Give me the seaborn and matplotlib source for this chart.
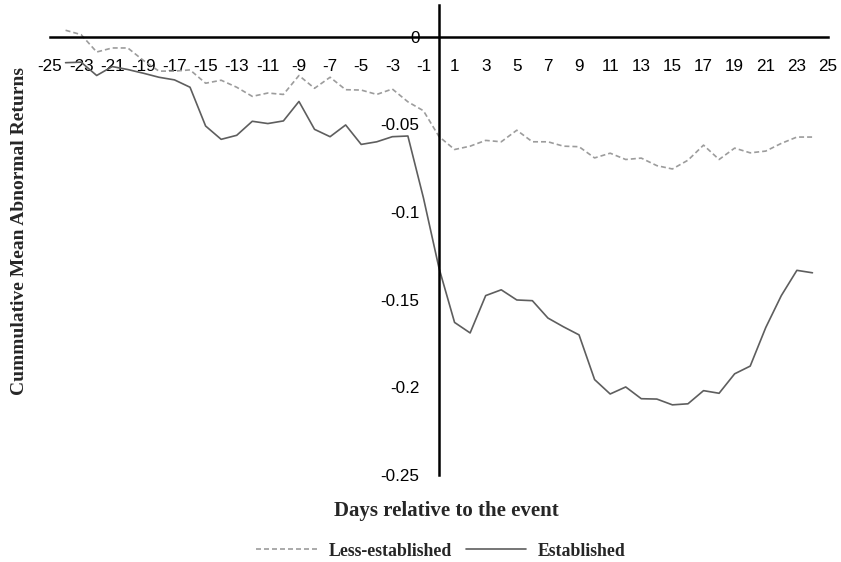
import pandas as pd
import seaborn as sns
import matplotlib.pyplot as plt

days = list(range(-24, 25))

less_established = [0.0036, 0.0011, -0.0088, -0.0065, -0.0065, -0.0136, -0.0197, -0.0197,
                    -0.0190, -0.0266, -0.0249, -0.0289, -0.0341, -0.0322, -0.0330, -0.0222,
                    -0.0295, -0.0232, -0.0303, -0.0305, -0.0330, -0.0299, -0.0372, -0.0423,
                    -0.0570, -0.0644, -0.0625, -0.0592, -0.0600, -0.0534, -0.0600, -0.0600,
                    -0.0625, -0.0628, -0.0692, -0.0665, -0.0701, -0.0693, -0.0736, -0.0755,
                    -0.0705, -0.0619, -0.0701, -0.0636, -0.0663, -0.0653, -0.0609, -0.0573,
                    -0.0573]

established = [-0.0149, -0.0146, -0.0222, -0.0171, -0.0188, -0.0209, -0.0232, -0.0247,
               -0.0289, -0.0510, -0.0586, -0.0563, -0.0483, -0.0496, -0.0481, -0.0370,
               -0.0529, -0.0571, -0.0504, -0.0615, -0.0600, -0.0571, -0.0567, -0.0920,
               -0.1320, -0.1630, -0.1690, -0.1477, -0.1444, -0.1502, -0.1506, -0.1605,
               -0.1655, -0.1701, -0.1956, -0.2038, -0.1998, -0.2065, -0.2067, -0.2100,
               -0.2094, -0.2019, -0.2034, -0.1923, -0.1879, -0.1659, -0.1477, -0.1333,
               -0.1347]

groups = ['Less-established', 'Established']
xticks = list(range(-25, 26, 2))
yticks = [0, -0.05, -0.1, -0.15, -0.2, -0.25]
ytick_labels = ['0', '-0.05', '-0.1', '-0.15', '-0.2', '-0.25']

df = pd.DataFrame({
    'day': days * 2,
    'car': less_established + established,
    'group': [groups[0]] * len(days) + [groups[1]] * len(days),
})

sns.set_style('white')
plt.rcParams['font.family'] = ['Liberation Sans', 'DejaVu Sans']

fig = plt.figure(figsize=(8.41, 5.62), dpi=100)
ax = fig.add_axes([50 / 841, 1 - 475 / 562, 778 / 841, 470 / 562])

sns.lineplot(data=df, x='day', y='car', hue='group', style='group', hue_order=groups,
             style_order=groups,
             palette={'Less-established': '#9c9c9c', 'Established': '#5e5e5e'},
             dashes={'Less-established': (3, 1.8), 'Established': ''},
             linewidth=1.2, ax=ax)

ax.set_xlim(-25, 25)
ax.set_ylim(-0.25, 0.018)

ax.spines['top'].set_visible(False)
ax.spines['right'].set_visible(False)
ax.spines['left'].set_position(('data', 0))
ax.spines['bottom'].set_position(('data', 0))
for s in ['left', 'bottom']:
    ax.spines[s].set_linewidth(1.8)
    ax.spines[s].set_color('black')

ax.set_xticks(xticks)
ax.set_xticklabels([str(t) for t in xticks])
ax.set_yticks(yticks)
ax.set_yticklabels(ytick_labels)
ax.tick_params(axis='x', direction='out', length=4, width=1.2, pad=12, labelsize=12.3, colors='black')
ax.tick_params(axis='y', direction='out', length=4, width=1.2, pad=10, labelsize=12.3, colors='black')

ax.set_xlabel('')
ax.set_ylabel('')
fig.text(20 / 841, 1 - 231 / 562, 'Cummulative Mean Abnormal Returns', rotation=90,
         ha='center', va='center', fontsize=14, fontweight='bold', family='Liberation Serif')
fig.text(446 / 841, 1 - 511 / 562, 'Days relative to the event',
         ha='center', va='center', fontsize=15, fontweight='bold', family='Liberation Serif')

handles, labels = ax.get_legend_handles_labels()
ax.get_legend().remove()
fig.legend(handles, labels, loc='center', bbox_to_anchor=(441 / 841, 1 - 551 / 562),
           ncol=2, frameon=False, handlelength=3.4, handletextpad=0.65, columnspacing=0.8,
           prop={'family': 'Liberation Serif', 'weight': 'bold', 'size': 12.8})

fig.savefig('out.png', dpi=100)
